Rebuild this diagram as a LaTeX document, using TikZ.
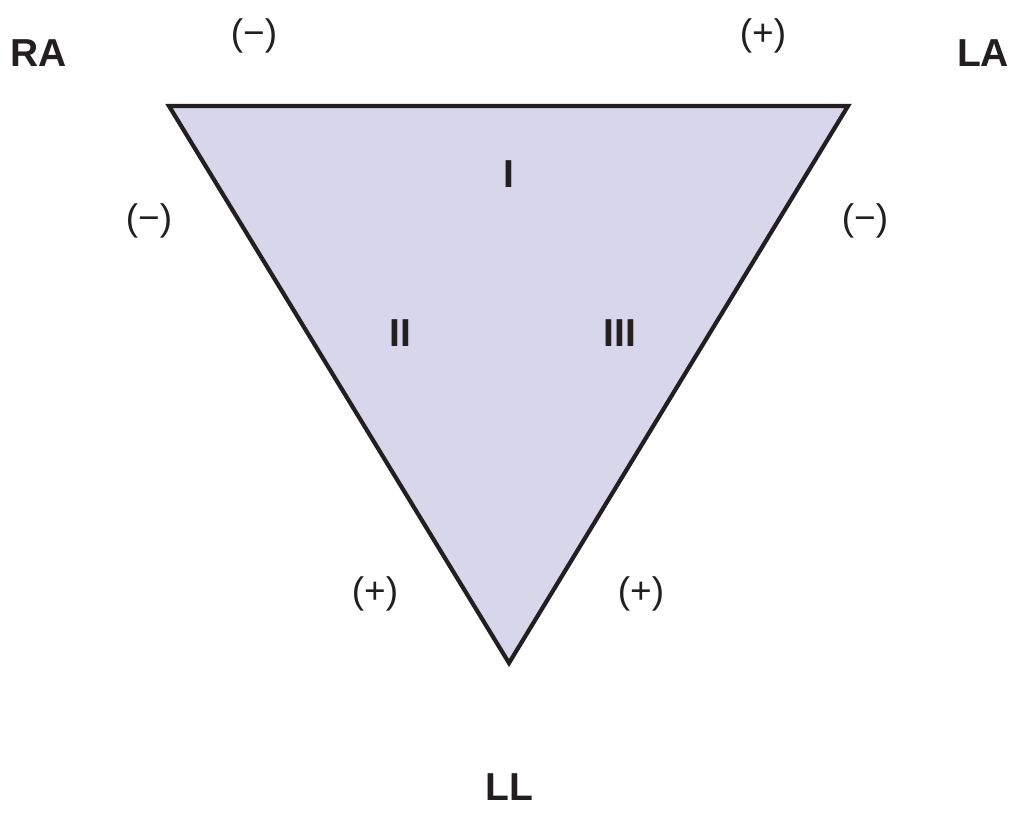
\documentclass[tikz,border=0pt]{standalone}
\usepackage{fontspec}
\setmainfont{Liberation Sans}
\definecolor{trifill}{HTML}{D8D6EB}
\definecolor{ink}{HTML}{231F20}
\begin{document}
\begin{tikzpicture}[x=1pt,y=-1pt,
  lead/.style={font=\fontsize{39}{44}\selectfont\bfseries, text=ink, inner sep=0pt},
  sign/.style={font=\fontsize{37}{42}\selectfont, text=ink, inner sep=0pt},
  edge/.style={draw=ink, line width=4.2pt, line join=miter, fill=trifill}]
\useasboundingbox (0,0) rectangle (1020,813);
\coordinate (ra) at (169,106);
\coordinate (la) at (848,106);
\coordinate (ll) at (509,663);
\path[edge] (ra) -- (la) -- (ll) -- cycle;
\node[lead] (tRA) at (39,53) {RA};
\node[lead] (tLA) at (983,53) {LA};
\node[lead] (tLL) at (509,787) {LL};
\node[lead] (tI) at (509,174) {I};
\node[lead] (tII) at (400,333) {II};
\node[lead] (tIII) at (620,333) {III};
\node[sign] (s1) at (254,36) {(−)};
\node[sign] (s2) at (763,36) {(+)};
\node[sign] (s3) at (149,221) {(−)};
\node[sign] (s4) at (865,221) {(−)};
\node[sign] (s5) at (375,594) {(+)};
\node[sign] (s6) at (641,594) {(+)};
\end{tikzpicture}
\end{document}
